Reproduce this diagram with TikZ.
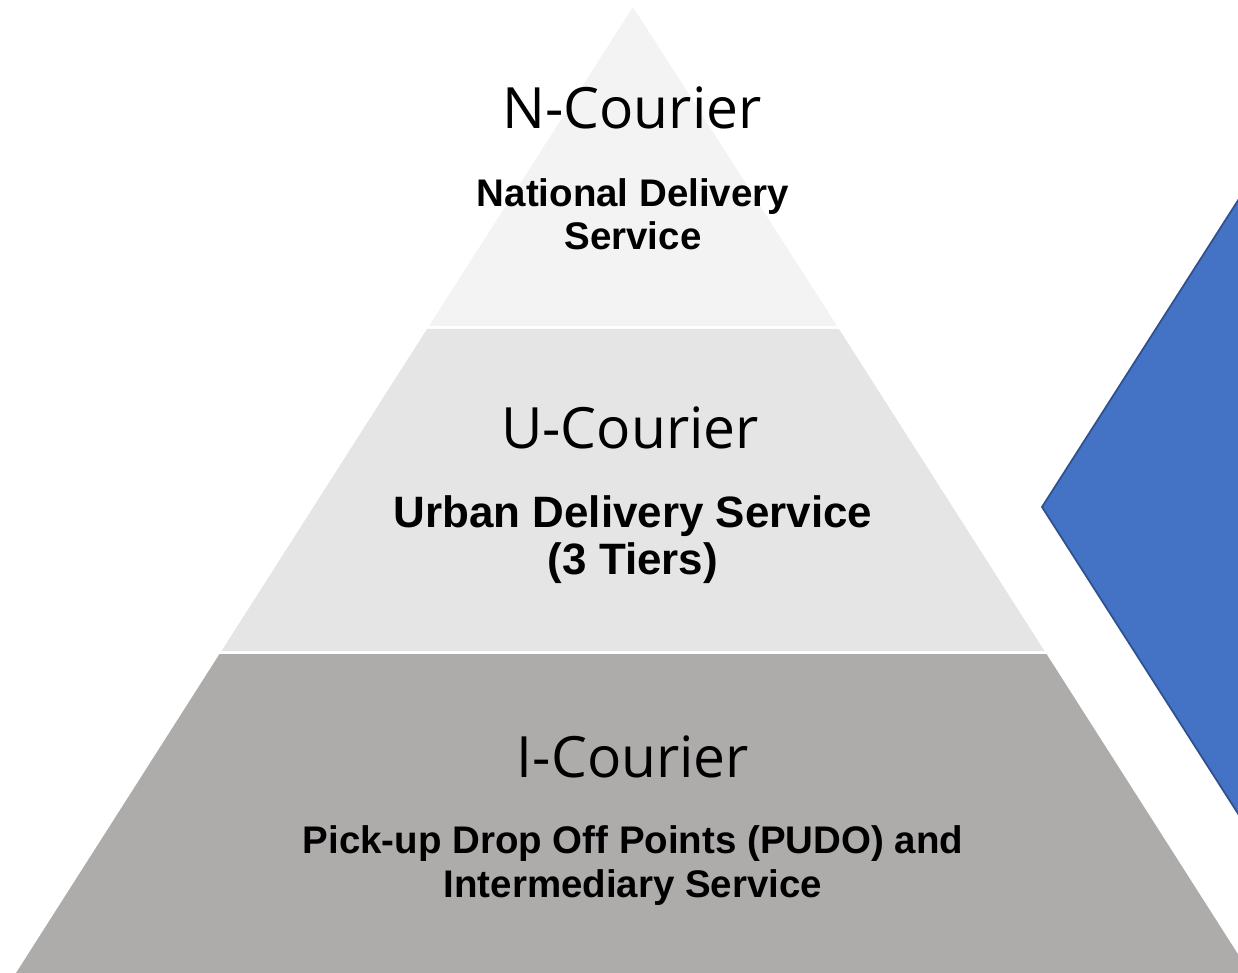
\documentclass[tikz,border=0pt]{standalone}
\usepackage{fontspec}
\usepackage{tikz}
\usetikzlibrary{calc, positioning}
\newfontfamily\levelfont{Open Sans}
\newfontfamily\servicefont{Liberation Sans}
\definecolor{bandtop}{RGB}{243,243,243}
\definecolor{bandmid}{RGB}{229,229,229}
\definecolor{bandlow}{RGB}{174,171,171}
\definecolor{chevfill}{RGB}{68,114,196}
\definecolor{chevline}{RGB}{47,82,143}
\tikzstyle{level} =[align=center, inner sep=0pt, anchor=base, font=\levelfont\fontsize{32.4}{36}\selectfont]
\tikzstyle{service} =[align=center, inner sep=0pt, anchor=base, font=\servicefont\bfseries\fontsize{21.9}{24.5}\selectfont]

\begin{document}
\begin{tikzpicture}[x=0.02cm, y=-0.02cm]
        \useasboundingbox (0,0) rectangle (1238,973);
        \clip (0,0) rectangle (1238,973);

        %% Pyramid bands
        \fill[bandtop] ($(633,7)$) -- ($(837,326)$) -- ($(429,326)$) -- cycle;
        \fill[bandmid] ($(427,329)$) -- ($(839,329)$) -- ($(1044.5,651)$) -- ($(221.5,651)$) -- cycle;
        \fill[bandlow] ($(219.5,654)$) -- ($(1046.5,654)$) -- ($(1250,973)$) -- ($(16,973)$) -- cycle;

        %% Blue chevron
        \filldraw[fill=chevfill, draw=chevline, line width=1pt] ($(1260,166)$) -- ($(1042,507)$) -- ($(1260,848)$) -- cycle;

        % Levels (base = last line)
        \node[level] (ncourier) at (632,129) {N-Courier};
        \node[service] (nservice) at (633,250) {National Delivery\\Service};

        \node[level] (ucourier) at (630,448) {U-Courier};
        \node[service, font=\servicefont\bfseries\fontsize{25}{26.7}\selectfont] (uservice) at (633,574) {Urban Delivery Service\\(3 Tiers)};

        \node[level] (icourier) at (633,777) {I-Courier};
        \node[service] (iservice) at (633,897) {Pick-up Drop Off Points (PUDO) and\\Intermediary Service};

    \end{tikzpicture}
\end{document}
